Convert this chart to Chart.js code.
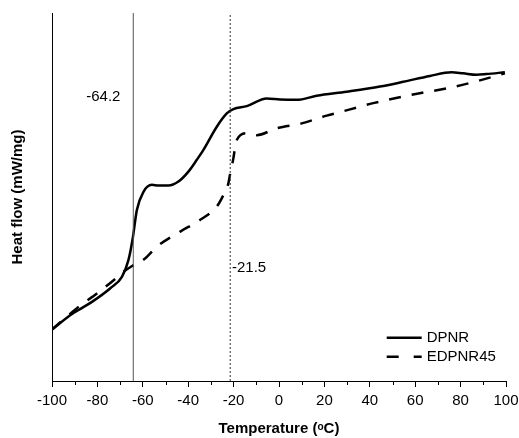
<!DOCTYPE html>
<html>
<head>
<meta charset="utf-8">
<script src="https://cdn.jsdelivr.net/npm/chart.js@4.4.1/dist/chart.umd.min.js"></script>
<style>
  body { margin: 0; background: #fff; }
</style>
</head>
<body>
<canvas id="dsc" width="519" height="438"></canvas>
<script>
// DPNR (solid)
const dpnrTemp = [-100, -91.2, -88.3, -82.4, -74.3, -69.2, -66.3, -64.5, -62.6, -59.7, -56, -53.1, -48.7, -44.3, -39.9, -36.2, -33.3, -27.4, -23, -20.1, -14.2, -5.4, 0.5, 7.8, 16.6, 29.8, 44.5, 54.7, 66.5, 76, 81.1, 87, 91.4, 99.5];
const dpnrFlow = [14.0, 18.2, 19.3, 21.5, 25.2, 28.3, 32.9, 38.5, 46.5, 51.4, 53.3, 53.1, 53.1, 54.2, 56.9, 60.1, 62.8, 69.1, 72.7, 73.9, 74.7, 76.8, 76.5, 76.4, 77.5, 78.6, 80.0, 81.3, 82.9, 83.9, 83.6, 83.2, 83.4, 83.9];

// EDPNR45 (dashed)
const edpnrTemp = [-100, -89, -79.5, -70.7, -68.5, -64.1, -59, -53.8, -43.5, -34.7, -27.4, -24.5, -22.3, -21.5, -20.1, -19.3, -18.6, -14.2, -12.7, -9.8, -1, 10, 21, 31.3, 41.5, 62, 73.8, 85.5, 99.5];
const edpnrFlow = [14.0, 19.8, 24.1, 28.5, 29.7, 31.5, 33.3, 36.5, 40.6, 43.8, 47.4, 50.5, 53.7, 56.4, 60.5, 63.7, 65.5, 67.3, 67.3, 66.8, 68.7, 70.0, 72.1, 73.8, 75.5, 78.2, 79.5, 81.2, 83.6];

// transition temperatures (vertical markers)
const tgTemps = [-64.2, -21.5];
const tgLabels = ['-64.2', '-21.5'];
const tgLabelPos = [[-84.9, 77.3], [-20.7, 30.7]];

const seriesNames = ['DPNR', 'EDPNR45'];
const xTicks = [-100, -80, -60, -40, -20, 0, 20, 40, 60, 80, 100];
const xMinorTicks = [-90, -70, -50, -30, -10, 10, 30, 50, 70, 90];

Chart.defaults.font.family = 'Arial, "Liberation Sans", sans-serif';
Chart.defaults.color = '#000';

const toPoints = (xs, ys) => xs.map((x, i) => ({ x: x, y: ys[i] }));

// 라벨, 범례, 보조 눈금
const extrasPlugin = {
    id: 'extras',
    afterDraw(chart) {
        const ctx = chart.ctx;
        const xs = chart.scales.x;
        const ys = chart.scales.y;
        const area = chart.chartArea;
        ctx.save();

        // minor ticks
        ctx.strokeStyle = '#000';
        ctx.lineWidth = 1;
        xMinorTicks.forEach(v => {
            const px = Math.round(xs.getPixelForValue(v)) + 0.5;
            ctx.beginPath();
            ctx.moveTo(px, area.bottom);
            ctx.lineTo(px, area.bottom + 4);
            ctx.stroke();
        });

        // Tg labels
        ctx.font = '15px Arial, "Liberation Sans", sans-serif';
        ctx.fillStyle = '#000';
        ctx.textAlign = 'left';
        ctx.textBaseline = 'middle';
        tgLabels.forEach((t, i) => {
            ctx.fillText(t, xs.getPixelForValue(tgLabelPos[i][0]), ys.getPixelForValue(tgLabelPos[i][1]));
        });

        // legend
        const lx = area.right - 119.3;
        const rows = [area.bottom - 43.3, area.bottom - 24.3];
        ctx.lineWidth = 2.5;
        seriesNames.forEach((name, i) => {
            ctx.setLineDash(i === 0 ? [] : [12, 15]);
            ctx.beginPath();
            ctx.moveTo(lx, rows[i]);
            ctx.lineTo(lx + 35, rows[i]);
            ctx.stroke();
            ctx.setLineDash([]);
            ctx.fillText(name, lx + 40, rows[i]);
        });
        ctx.restore();
    }
};

new Chart(document.getElementById('dsc'), {
    type: 'line',
    data: {
        datasets: [
            {
                label: 'Tg1',
                data: [{ x: tgTemps[0], y: 0 }, { x: tgTemps[0], y: 100 }],
                borderColor: '#555',
                borderWidth: 1,
                pointRadius: 0,
                tension: 0
            },
            {
                label: 'Tg2',
                data: [{ x: tgTemps[1], y: 0 }, { x: tgTemps[1], y: 100 }],
                borderColor: '#333',
                borderWidth: 1,
                borderDash: [2, 2],
                pointRadius: 0,
                tension: 0
            },
            {
                label: seriesNames[0],
                data: toPoints(dpnrTemp, dpnrFlow),
                borderColor: '#000',
                borderWidth: 2.5,
                pointRadius: 0,
                cubicInterpolationMode: 'monotone'
            },
            {
                label: seriesNames[1],
                data: toPoints(edpnrTemp, edpnrFlow),
                borderColor: '#000',
                borderWidth: 2.5,
                borderDash: [12, 11],
                pointRadius: 0,
                cubicInterpolationMode: 'monotone'
            }
        ]
    },
    options: {
        responsive: false,
        animation: false,
        layout: { padding: { top: 13, right: 13, left: 0, bottom: 0 } },
        scales: {
            x: {
                type: 'linear',
                min: -100,
                max: 100,
                afterBuildTicks: scale => { scale.ticks = xTicks.map(v => ({ value: v })); },
                afterFit: scale => {
                    scale.height = 57;
                    scale.paddingLeft = 0;
                    scale.paddingRight = 0;
                },
                ticks: { font: { size: 15 }, color: '#000', padding: 5 },
                grid: { drawOnChartArea: false, tickLength: 6, tickColor: '#000' },
                border: { color: '#000', width: 1 },
                title: {
                    display: true,
                    text: 'Temperature (ᵒC)',
                    font: { size: 15, weight: 'bold' },
                    color: '#000',
                    padding: { top: 0, bottom: 0 }
                }
            },
            y: {
                min: 0,
                max: 100,
                afterFit: scale => {
                    scale.width = 52;
                    scale.paddingTop = 0;
                    scale.paddingBottom = 0;
                },
                ticks: { display: false },
                grid: { display: false },
                border: { color: '#000', width: 1 },
                title: {
                    display: true,
                    text: 'Heat flow (mW/mg)',
                    font: { size: 15, weight: 'bold' },
                    color: '#000',
                    padding: { top: 9, bottom: 0 }
                }
            }
        },
        plugins: {
            legend: { display: false },
            tooltip: { enabled: false }
        }
    },
    plugins: [extrasPlugin]
});
</script>
</body>
</html>
